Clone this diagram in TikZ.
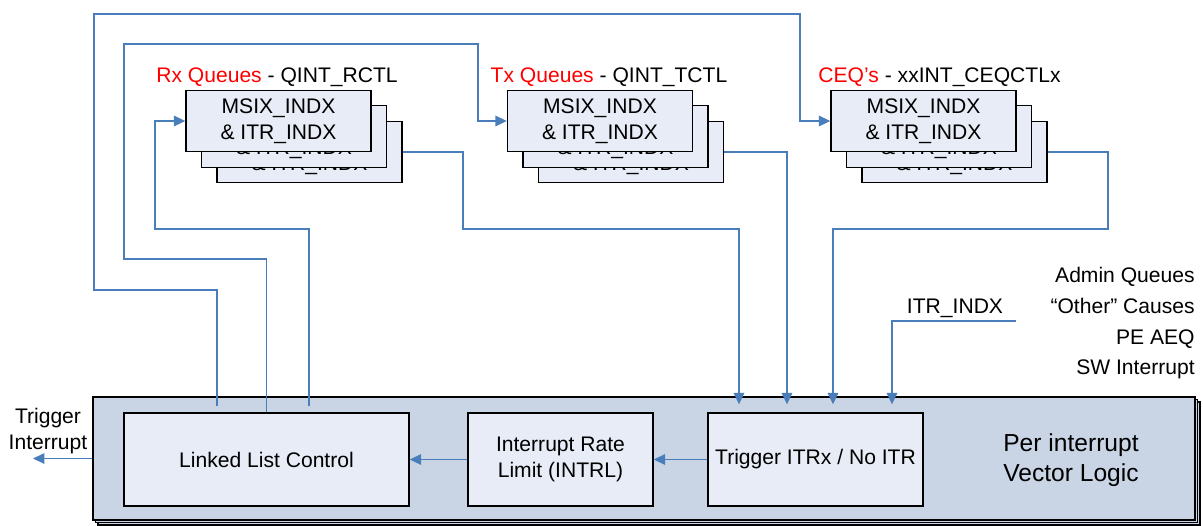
\documentclass[tikz,border=0pt]{standalone}
\usepackage{fontspec}
\setmainfont{Liberation Sans}
\usepackage{xcolor}
\usepackage{tikz}
\usetikzlibrary{arrows.meta}

\definecolor{cajaclara}{HTML}{E7ECF6}
\definecolor{cajaexterior}{HTML}{C9D4E4}
\definecolor{lineaazul}{HTML}{4A7EBB}

\tikzset{
  texto/.style={font=\fontsize{12}{14.5}\selectfont, inner sep=0pt},
  caja/.style={texto, draw=black, line width=0.8pt, fill=cajaclara, align=center},
  cola/.style={caja, minimum width=3.7cm, minimum height=1.23cm},
  bloque/.style={draw=black, line width=0.8pt, fill=cajaexterior, minimum width=22.04cm, minimum height=2.46cm, inner sep=0pt},
  linea/.style={draw=lineaazul, line width=0.8pt},
  flecha/.style={linea, -{Triangle[length=6.5pt,width=6pt]}},
}

\begin{document}
\begin{tikzpicture}[x=0.02cm, y=-0.02cm]

    \useasboundingbox (0,0) rectangle (1203,525);

    % Bloque exterior apilado
    \node[bloque] (vecC) at (649,463.5) {};
    \node[bloque] (vecB) at (646.5,461) {};
    \node[bloque] (vec) at (644,458.5) {};

    % Bloques interiores
    \node[caja, minimum width=5.7cm, minimum height=1.86cm] (llc) at (266.5,459.5) {Linked List Control};
    \node[caja, minimum width=3.7cm, minimum height=1.86cm] (intrl) at (560.5,459.5) {Interrupt Rate\\Limit (INTRL)};
    \node[caja, minimum width=4.3cm, minimum height=1.86cm] (trig) at (815.5,459.5) {Trigger ITRx / No ITR};
    \node[texto, align=center, font=\fontsize{14}{17}\selectfont] (per) at (1071,460) {Per interrupt\\Vector Logic};

    % Colas Rx
    \node[cola] (rx3) at (309.5,152) {MSIX\_INDX\\\& ITR\_INDX};
    \node[cola] (rx2) at (294,136.5) {MSIX\_INDX\\\& ITR\_INDX};
    \node[cola] (rx1) at (278.5,121) {MSIX\_INDX\\\& ITR\_INDX};
    \node[texto, anchor=base] (rxlab) at (277,82) {\textcolor{red}{Rx Queues} - QINT\_RCTL};

    % Colas Tx
    \node[cola] (tx3) at (631,152) {MSIX\_INDX\\\& ITR\_INDX};
    \node[cola] (tx2) at (615.5,136.5) {MSIX\_INDX\\\& ITR\_INDX};
    \node[cola] (tx1) at (600,121) {MSIX\_INDX\\\& ITR\_INDX};
    \node[texto, anchor=base] (txlab) at (609,82) {\textcolor{red}{Tx Queues} - QINT\_TCTL};

    % Colas CEQ
    \node[cola] (ceq3) at (954.5,152) {MSIX\_INDX\\\& ITR\_INDX};
    \node[cola] (ceq2) at (939,136.5) {MSIX\_INDX\\\& ITR\_INDX};
    \node[cola] (ceq1) at (923.5,121) {MSIX\_INDX\\\& ITR\_INDX};
    \node[texto, anchor=base] (ceqlab) at (939.5,82) {\textcolor{red}{CEQ’s} - xxINT\_CEQCTLx};

    % Otras causas
    \node[texto, anchor=base east] (admin) at (1195,282) {Admin Queues};
    \node[texto, anchor=base east] (other) at (1195,313) {“Other” Causes};
    \node[texto, anchor=base east] (peaeq) at (1195,344) {PE AEQ};
    \node[texto, anchor=base east] (swint) at (1195,374) {SW Interrupt};
    \node[texto, anchor=base] (itrlab) at (955,313) {ITR\_INDX};
    \coordinate (itrsrc) at (1016,321);

    % Salida
    \node[texto, align=center] (trigtxt) at (48,431) {Trigger\\Interrupt};
    \coordinate (salida) at (33,458.5);

    % Realimentacion hacia las colas
    \draw[flecha] ([xshift=-0.99cm,yshift=0.12cm]llc.north) |- (94,290) |- (800,14) |- (ceq1.west);
    \draw[flecha] (llc.north) |- (124,259) |- (478,44) |- (tx1.west);
    \draw[flecha] ([xshift=0.85cm,yshift=0.12cm]llc.north) |- (155,229) |- (rx1.west);

    % Entradas al disparador
    \draw[flecha] (rx3.east) -| (463,229) -| ([xshift=-1.53cm,yshift=0.16cm]trig.north);
    \draw[flecha] (tx3.east) -| ([xshift=-0.57cm,yshift=0.16cm]trig.north);
    \draw[flecha] (ceq3.east) -| (1108,229) -| ([xshift=0.35cm,yshift=0.16cm]trig.north);
    \draw[flecha] (itrsrc) -| ([xshift=1.53cm,yshift=0.16cm]trig.north);

    % Cadena interna
    \draw[flecha] (trig.west) -- (intrl.east);
    \draw[flecha] (intrl.west) -- (llc.east);
    \draw[flecha] (vec.west) -- (salida);

\end{tikzpicture}
\end{document}
